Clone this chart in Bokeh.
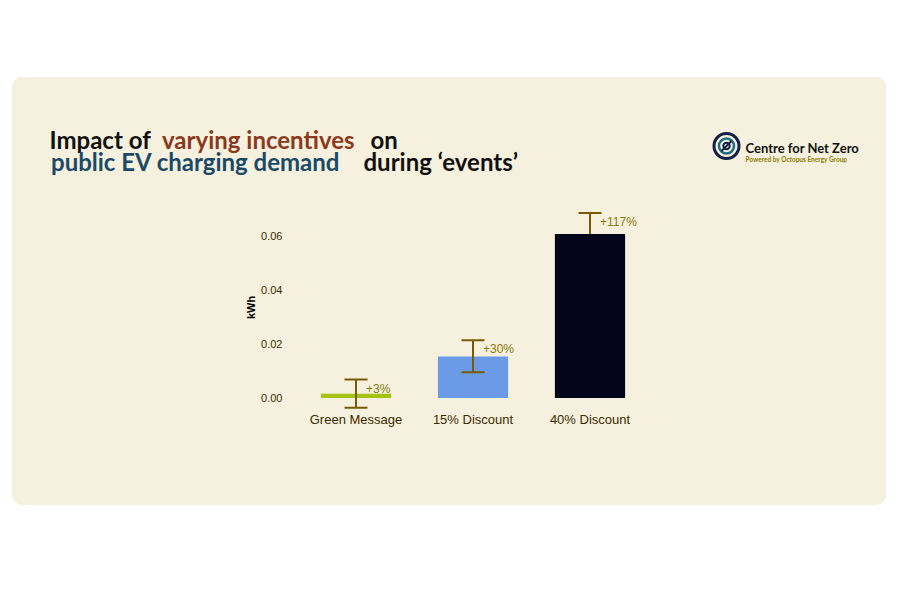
from bokeh.plotting import figure
from bokeh.layouts import column, row
from bokeh.models import (ColumnDataSource, FactorRange, Range1d, Label,
                          Whisker, TeeHead, FixedTicker, PrintfTickFormatter)
from bokeh.embed import file_html
from bokeh.resources import INLINE
from bokeh.core.properties import value

# ---- data ----
categories = ["Green Message", "15% Discount", "40% Discount"]
kwh = [0.0016, 0.0154, 0.0607]
err_low = [-0.0036, 0.0095, 0.0530]
err_high = [0.0068, 0.0214, 0.0685]
uplift = ["+3%", "+30%", "+117%"]
bar_colors = ["#a5c214", "#6b9be6", "#04041a"]
y_ticks = [0.0, 0.02, 0.04, 0.06]

PANEL = "#f5f1de"
PL, PT, PR, PB = 12, 77, 886, 505          # panel in page pixels
HB = 190                                    # header / chart split
FL, FT, FR, FB = 297, 203, 648, 411         # chart frame in page pixels

# ---------- header (title + logo) ----------
hd = figure(width=PR - PL, height=HB - PT, output_backend="svg", toolbar_location=None,
            x_range=Range1d(PL, PR), y_range=Range1d(HB, PT),
            x_axis_type=None, y_axis_type=None, min_border=0)
hd.border_fill_color = PANEL
hd.background_fill_color = PANEL
hd.outline_line_color = None
hd.grid.grid_line_color = None


def seg(txt, px, py, color, style, size="24px", font="Lato"):
    hd.add_layout(Label(x=px, y=py, text=txt, text_font=font, text_font_size=size,
                        text_font_style=style, text_color=color,
                        text_baseline="alphabetic"))


seg("Impact of", 49, 138.5, "#111111", "bold")
seg("varying incentives", 161.5, 138.5, "#8b3a20", "bold")
seg("on", 370, 138.5, "#111111", "bold")
seg("public EV charging demand", 50.5, 160.5, "#1b4a68", "bold")
seg("during \u2018events\u2019", 363, 160.5, "#111111", "bold")

# logo
LX, LY = 726, 145.5
hd.circle(x=[LX], y=[LY], radius=12.5, fill_color=None, line_color="#13204a", line_width=3)
hd.circle(x=[LX], y=[LY], radius=7.5, fill_color=None, line_color="#1f6d86", line_width=2.5)
hd.circle(x=[LX], y=[LY], radius=3.2, fill_color=None, line_color="#13204a", line_width=2)
hd.segment(x0=[LX - 5], y0=[LY + 5], x1=[LX + 5], y1=[LY - 5], line_color="#13204a",
           line_width=2)
seg("Centre for Net Zero", 745, 147.5, "#111111", "bold", "13px")
seg("Powered by Octopus Energy Group", 745, 158.5, "#8a7a00", "bold", "6.5px")

# ---------- chart ----------
p = figure(width=PR - PL, height=PB - HB, output_backend="svg", toolbar_location=None,
           x_range=FactorRange(*categories, range_padding=0),
           y_range=Range1d(-0.005, 0.072),
           min_border_left=FL - PL, min_border_right=PR - FR,
           min_border_top=FT - HB, min_border_bottom=PB - FB)
p.border_fill_color = PANEL
p.background_fill_color = PANEL
p.outline_line_color = None
p.grid.grid_line_color = None

src = ColumnDataSource(dict(cat=categories, kwh=kwh, lo=err_low, hi=err_high,
                            lab=uplift, col=bar_colors))
src_front = ColumnDataSource(dict(cat=categories[:2], lo=err_low[:2], hi=err_high[:2]))
src_back = ColumnDataSource(dict(cat=categories[2:], lo=err_low[2:], hi=err_high[2:]))

p.vbar(x="cat", top="kwh", bottom=0, width=0.6, source=src, fill_color="col",
       line_color=None)

WH = "#7a5a00"
for s, lvl in ((src_front, "overlay"), (src_back, "underlay")):
    p.add_layout(Whisker(source=s, base="cat", lower="lo", upper="hi", level=lvl,
                         line_color=WH, line_width=2,
                         upper_head=TeeHead(size=23, line_color=WH, line_width=2),
                         lower_head=TeeHead(size=23, line_color=WH, line_width=2)))

p.text(x="cat", y="hi", text="lab", source=src, x_offset=10, y_offset=9,
       text_font=value("Liberation Sans"), text_font_size="12px",
       text_color="#8a7a0c", text_baseline="middle", text_align="left")

p.yaxis.ticker = FixedTicker(ticks=y_ticks)
p.yaxis.formatter = PrintfTickFormatter(format="%.2f")
for ax in (p.xaxis[0], p.yaxis[0]):
    ax.axis_line_color = None
    ax.major_tick_line_color = None
    ax.minor_tick_line_color = None
    ax.major_tick_out = 0
    ax.major_tick_in = 0
    ax.major_label_text_color = "#3d2b00"
    ax.major_label_text_font = "Liberation Sans"
p.yaxis.major_label_text_font_size = "11px"
p.yaxis.major_label_standoff = 15
p.yaxis.axis_label = "kWh"
p.yaxis.axis_label_text_font = "Liberation Sans"
p.yaxis.axis_label_text_font_style = "bold"
p.yaxis.axis_label_text_font_size = "11px"
p.yaxis.axis_label_text_color = "black"
p.yaxis.axis_label_standoff = 1
p.xaxis.major_label_text_font_size = "13px"
p.xaxis.major_label_standoff = 0

layout = column(row(hd), row(p), spacing=0, margin=(PT, 0, 0, PL),
                styles={"border-radius": "10px", "overflow": "hidden",
                        "background-color": PANEL})

open("out.html", "w").write(file_html(layout, INLINE))
